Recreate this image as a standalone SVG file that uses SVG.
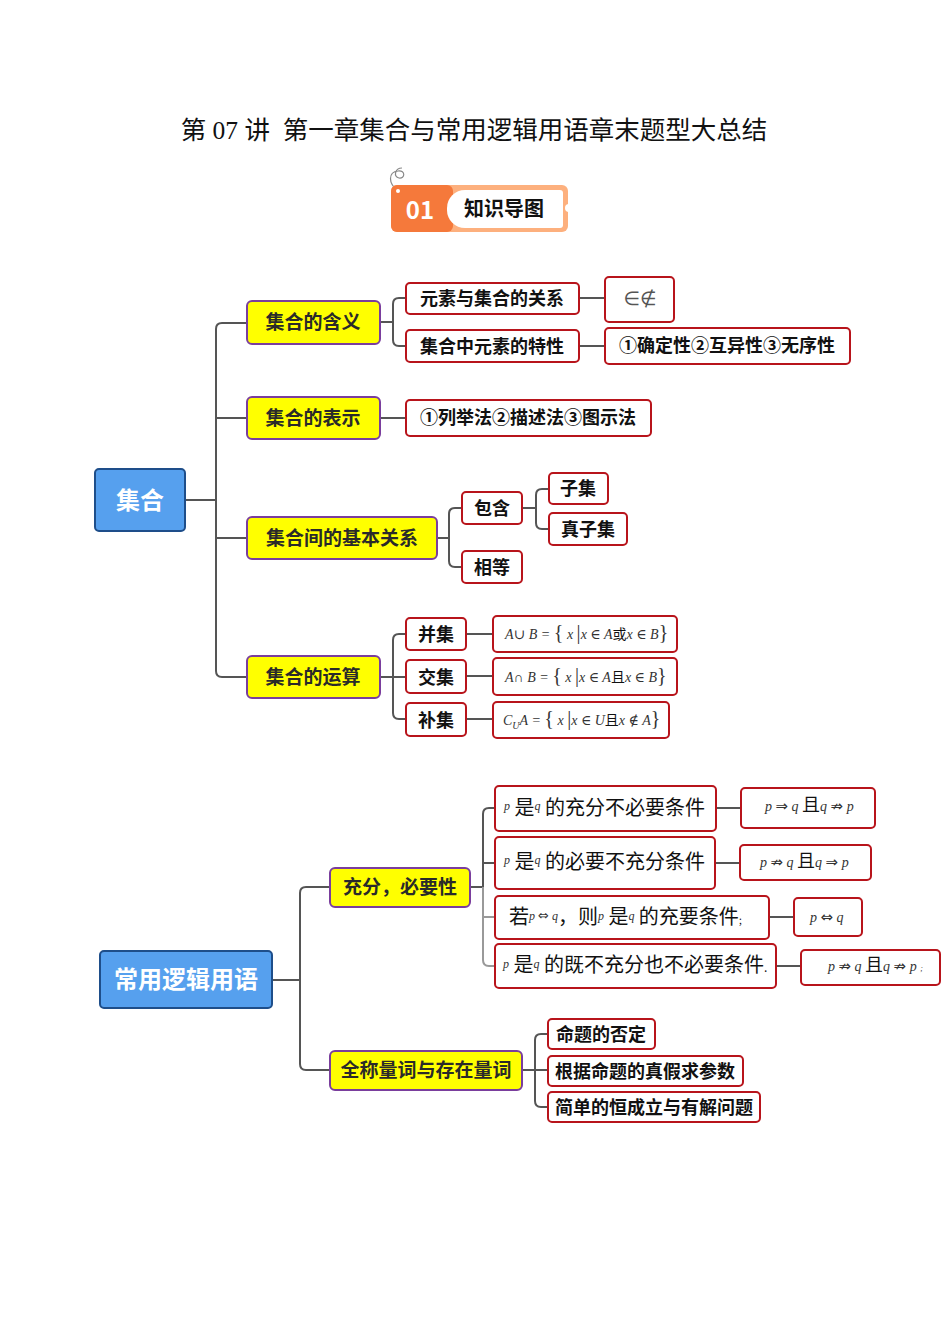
<svg xmlns="http://www.w3.org/2000/svg" width="950" height="1344" viewBox="0 0 950 1344">
<style>
.bg{fill:#ffffff}
.blue rect{fill:#56A0EE;stroke:#1E4E8A;stroke-width:2}
.blue text{fill:#ffffff;font-family:"Noto Sans CJK SC",sans-serif;font-weight:700;font-size:24px;text-anchor:middle}
.yel rect{fill:#FFFF00;stroke:#7A3E9D;stroke-width:2}
.yel text{fill:#2a2a2a;font-family:"Noto Sans CJK SC",sans-serif;font-weight:700;font-size:19px;text-anchor:middle}
.red rect{fill:#ffffff;stroke:#B8141B;stroke-width:2}
.red text.b{fill:#111;font-family:"Noto Sans CJK SC",sans-serif;font-weight:700;font-size:18px;text-anchor:middle}
.m{fill:#333;font-family:"Liberation Serif","DejaVu Serif","Noto Sans CJK SC",serif;font-style:italic;font-size:14px}
.cn{font-family:"Noto Sans CJK SC",sans-serif;font-style:normal;font-size:18px;fill:#111}
.ar{font-family:"DejaVu Sans",sans-serif;font-style:normal;font-size:15px}
.ar2{font-family:"DejaVu Sans",sans-serif;font-style:normal;font-size:13px}
.lg{fill:#111;font-family:"Noto Sans CJK SC",sans-serif;font-size:20px}
.pv{font-family:"Liberation Serif","DejaVu Serif",serif;font-style:italic;font-size:12px;fill:#333}
.br{font-size:20px;font-style:normal}
.conn path{fill:none;stroke:#555;stroke-width:2}
.conn path.lt{stroke:#999}
</style>
<rect class="bg" x="0" y="0" width="950" height="1344"/>

<!-- title -->
<text id="title" x="474" y="139" text-anchor="middle" font-family="Liberation Serif,'Noto Sans CJK SC',serif" font-size="25.5" fill="#111" style="white-space:pre">第 07 讲  第一章集合与常用逻辑用语章末题型大总结</text>

<!-- badge -->
<g id="badge">
  <path d="M398,190 C388,184 388,172 398,171 C406,170 405,179 399,178 C393,177 395,168 402,168" fill="none" stroke="#888" stroke-width="1.2"/>
  <rect x="391" y="185" width="177" height="47" rx="6" fill="#FDB07E"/>
  <rect x="391" y="185" width="62" height="47" rx="6" fill="#F5793B"/>
  <rect x="447" y="190" width="116" height="38" rx="18" fill="#ffffff"/>
  <rect x="470" y="190" width="93" height="38" rx="3" fill="#ffffff"/>
  <circle cx="569" cy="208" r="4" fill="#ffffff"/>
  <circle cx="398" cy="191" r="2" fill="#ffffff"/>
  <text x="420" y="219" text-anchor="middle" font-family="'Noto Sans CJK SC',sans-serif" font-weight="700" font-size="24" fill="#ffffff">01</text>
  <text x="504" y="216" text-anchor="middle" font-family="'Noto Sans CJK SC',sans-serif" font-weight="700" font-size="20" fill="#111">知识导图</text>
</g>

<!-- connectors -->
<g id="connectors" class="conn">
  <path d="M185,500 H216"/>
  <path d="M247,323 H222 Q216,323 216,329 V671 Q216,677 222,677 H247"/>
  <path d="M216,418 H247"/>
  <path d="M216,538 H247"/>
  <path d="M380,322 H393"/>
  <path d="M406,298 H399 Q393,298 393,304 V340 Q393,346 399,346 H406"/>
  <path d="M579,298 H605"/>
  <path d="M579,346 H605"/>
  <path d="M380,418 H406"/>
  <path d="M437,538 H449"/>
  <path d="M462,508 H455 Q449,508 449,514 V561 Q449,567 455,567 H462"/>
  <path d="M522,508 H536"/>
  <path d="M549,489 H542 Q536,489 536,495 V523 Q536,529 542,529 H549"/>
  <path d="M380,677 H406"/>
  <path d="M406,634 H399 Q393,634 393,640 V713 Q393,719 399,719 H406"/>
  <path d="M466,634 H493"/>
  <path d="M466,676 H493"/>
  <path d="M466,719 H493"/>

  <path d="M272,980 H300"/>
  <path d="M330,887 H306 Q300,887 300,893 V1064 Q300,1070 306,1070 H330"/>
  <path d="M470,887 H483"/>
  <path d="M495,808 H489 Q483,808 483,814 V887"/>
  <path class="lt" d="M483,887 V960 Q483,966 489,966 H495"/>
  <path d="M483,863 H495"/>
  <path class="lt" d="M483,917 H495"/>
  <path d="M716,808 H741"/>
  <path d="M715,863 H740"/>
  <path d="M769,917 H794"/>
  <path d="M776,966 H801"/>
  <path d="M522,1070 H548"/>
  <path d="M548,1034 H541 Q535,1034 535,1040 V1101 Q535,1107 541,1107 H548"/>
</g>

<!-- section 1 -->
<g id="n-jihe" class="blue"><rect x="95" y="469" width="90" height="62" rx="4"/><text x="140" y="509">集合</text></g>
<g id="n-hanyi" class="yel"><rect x="247" y="301" width="133" height="43" rx="5"/><text x="313" y="329">集合的含义</text></g>
<g id="n-biaoshi" class="yel"><rect x="247" y="397" width="133" height="42" rx="5"/><text x="313" y="425">集合的表示</text></g>
<g id="n-guanxi" class="yel"><rect x="247" y="517" width="190" height="42" rx="5"/><text x="342" y="545">集合间的基本关系</text></g>
<g id="n-yunsuan" class="yel"><rect x="247" y="656" width="133" height="42" rx="5"/><text x="313" y="684">集合的运算</text></g>

<g id="n-yuansu" class="red"><rect x="406" y="283" width="173" height="31" rx="4"/><text class="b" x="492" y="305">元素与集合的关系</text></g>
<g id="n-texing" class="red"><rect x="406" y="330" width="173" height="32" rx="4"/><text class="b" x="492" y="353">集合中元素的特性</text></g>
<g id="n-in" class="red"><rect x="605" y="277" width="69" height="45" rx="4"/><text x="640" y="305" text-anchor="middle" font-family="'DejaVu Sans',sans-serif" font-size="19" fill="#555">∈∉</text></g>
<g id="n-tx" class="red"><rect x="605" y="328" width="245" height="36" rx="4"/><text class="b" x="727" y="352">①确定性②互异性③无序性</text></g>
<g id="n-fa" class="red"><rect x="406" y="400" width="245" height="36" rx="4"/><text class="b" x="528" y="424">①列举法②描述法③图示法</text></g>

<g id="n-baohan" class="red"><rect x="462" y="492" width="60" height="32" rx="4"/><text class="b" x="492" y="515">包含</text></g>
<g id="n-xiangdeng" class="red"><rect x="462" y="551" width="60" height="32" rx="4"/><text class="b" x="492" y="574">相等</text></g>
<g id="n-ziji" class="red"><rect x="549" y="473" width="59" height="31" rx="4"/><text class="b" x="578" y="495">子集</text></g>
<g id="n-zhenziji" class="red"><rect x="549" y="513" width="78" height="32" rx="4"/><text class="b" x="588" y="536">真子集</text></g>

<g id="n-bingji" class="red"><rect x="406" y="618" width="60" height="32" rx="4"/><text class="b" x="436" y="641">并集</text></g>
<g id="n-jiaoji" class="red"><rect x="406" y="660" width="60" height="33" rx="4"/><text class="b" x="436" y="684">交集</text></g>
<g id="n-buji" class="red"><rect x="406" y="703" width="60" height="33" rx="4"/><text class="b" x="436" y="727">补集</text></g>

<g id="n-f1" class="red"><rect x="493" y="616" width="184" height="36" rx="4"/>
  <text class="m" x="505" y="639">A∪ B = <tspan class="br">{</tspan> x <tspan class="br">|</tspan>x ∈ A<tspan class="cn" style="font-size:14px">或</tspan>x ∈ B<tspan class="br">}</tspan></text></g>
<g id="n-f2" class="red"><rect x="493" y="658" width="184" height="37" rx="4"/>
  <text class="m" x="505" y="682">A∩ B = <tspan class="br">{</tspan> x <tspan class="br">|</tspan>x ∈ A<tspan class="cn" style="font-size:14px">且</tspan>x ∈ B<tspan class="br">}</tspan></text></g>
<g id="n-f3" class="red"><rect x="493" y="702" width="176" height="36" rx="4"/>
  <text class="m" x="503" y="725">C<tspan style="font-size:10px" dy="4">U</tspan><tspan dy="-4">A = </tspan><tspan class="br">{</tspan> x <tspan class="br">|</tspan>x ∈ U<tspan class="cn" style="font-size:14px">且</tspan>x ∉ A<tspan class="br">}</tspan></text></g>

<!-- section 2 -->
<g id="n-luoji" class="blue"><rect x="100" y="951" width="172" height="57" rx="4"/><text x="186" y="988">常用逻辑用语</text></g>
<g id="n-chongfen" class="yel"><rect x="330" y="868" width="140" height="39" rx="5"/><text x="400" y="894">充分，必要性</text></g>
<g id="n-liangci" class="yel"><rect x="330" y="1051" width="192" height="39" rx="5"/><text x="426" y="1077">全称量词与存在量词</text></g>

<g id="n-l1" class="red"><rect x="495" y="786" width="221" height="45" rx="4"/>
  <text class="lg" x="504" y="815"><tspan class="pv" dy="-5">p</tspan><tspan dy="5"> 是</tspan><tspan class="pv" dy="-5">q</tspan><tspan dy="5"> 的充分不必要条件</tspan></text></g>
<g id="n-l2" class="red"><rect x="495" y="837" width="220" height="52" rx="4"/>
  <text class="lg" x="504" y="869"><tspan class="pv" dy="-5">p</tspan><tspan dy="5"> 是</tspan><tspan class="pv" dy="-5">q</tspan><tspan dy="5"> 的必要不充分条件</tspan></text></g>
<g id="n-l3" class="red"><rect x="495" y="896" width="274" height="43" rx="4"/>
  <text class="lg" x="509" y="924">若<tspan class="pv" dy="-4">p <tspan class="ar2">⇔</tspan> q</tspan><tspan dy="4">，则</tspan><tspan class="pv" dy="-4">p</tspan><tspan dy="4"> 是</tspan><tspan class="pv" dy="-4">q</tspan><tspan dy="4"> 的充要条件</tspan><tspan style="font-size:10px">;</tspan></text></g>
<g id="n-l4" class="red"><rect x="495" y="944" width="281" height="44" rx="4"/>
  <text class="lg" x="503" y="972"><tspan class="pv" dy="-4">p</tspan><tspan dy="4"> 是</tspan><tspan class="pv" dy="-4">q</tspan><tspan dy="4"> 的既不充分也不必要条件</tspan><tspan style="font-size:12px">.</tspan></text></g>

<g id="n-r1" class="red"><rect x="741" y="788" width="134" height="40" rx="4"/>
  <text class="m" x="765" y="811">p <tspan class="ar">⇒</tspan> q <tspan class="cn">且</tspan>q <tspan class="ar">⇏</tspan> p</text></g>
<g id="n-r2" class="red"><rect x="740" y="845" width="131" height="35" rx="4"/>
  <text class="m" x="760" y="867">p <tspan class="ar">⇏</tspan> q <tspan class="cn">且</tspan>q <tspan class="ar">⇒</tspan> p</text></g>
<g id="n-r3" class="red"><rect x="794" y="898" width="68" height="38" rx="4"/>
  <text class="m" x="810" y="922">p <tspan class="ar">⇔</tspan> q</text></g>
<g id="n-r4" class="red"><rect x="801" y="950" width="139" height="35" rx="4"/>
  <text class="m" x="828" y="971">p <tspan class="ar">⇏</tspan> q <tspan class="cn">且</tspan>q <tspan class="ar">⇏</tspan> p <tspan style="font-size:8px">;</tspan></text></g>

<g id="n-fouding" class="red"><rect x="548" y="1019" width="107" height="30" rx="4"/><text class="b" x="601" y="1041">命题的否定</text></g>
<g id="n-canshu" class="red"><rect x="548" y="1056" width="195" height="30" rx="4"/><text class="b" x="645" y="1078">根据命题的真假求参数</text></g>
<g id="n-hengcheng" class="red"><rect x="548" y="1092" width="212" height="30" rx="4"/><text class="b" x="654" y="1114">简单的恒成立与有解问题</text></g>
</svg>
